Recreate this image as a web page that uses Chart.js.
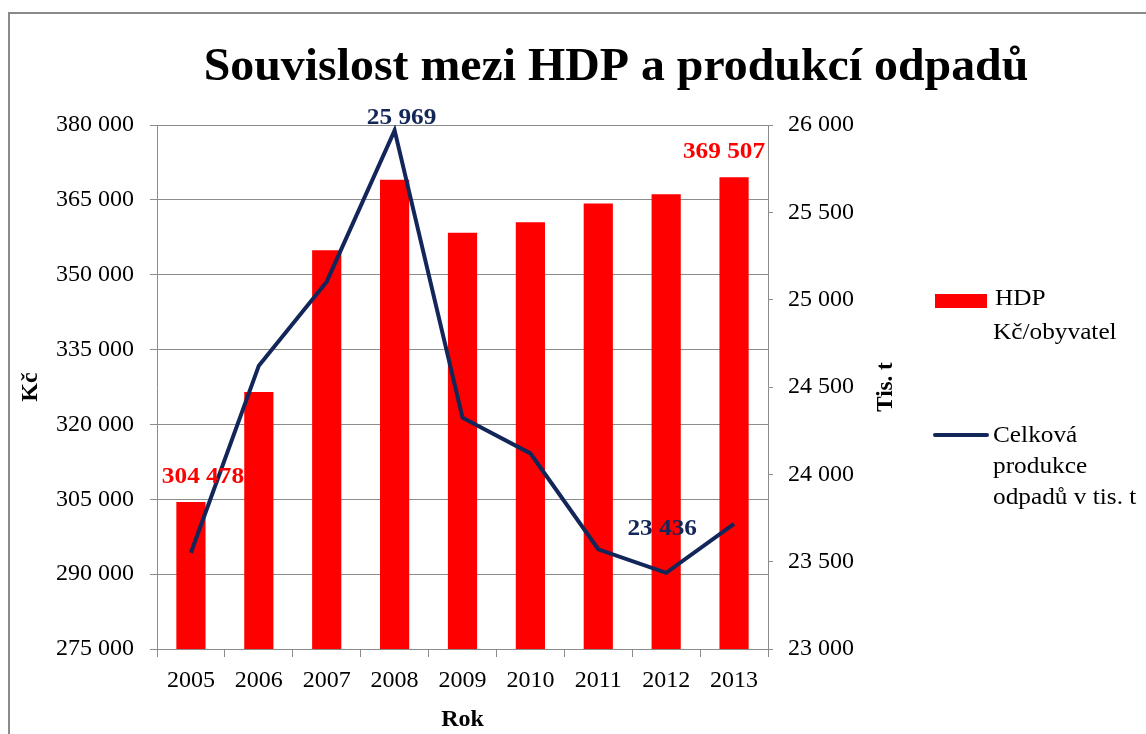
<!DOCTYPE html>
<html>
<head>
<meta charset="utf-8">
<script src="https://cdn.jsdelivr.net/npm/chart.js@4.4.0/dist/chart.umd.min.js"></script>
<style>
    body { margin: 0; background: #fff; }
    #wrap { position: relative; width: 1146px; height: 734px; }
    #ramecek { position: absolute; left: 8px; top: 12px; right: -2px; bottom: -2px; border-left: 2px solid #8a8a8a; border-top: 2px solid #8a8a8a; }
    canvas { position: absolute; left: 0; top: 0; }
</style>
</head>
<body>
<div id="wrap">
    <div id="ramecek"></div>
    <canvas id="chart" width="1146" height="734"></canvas>
</div>
<script>
var roky = ['2005', '2006', '2007', '2008', '2009', '2010', '2011', '2012', '2013'];
var hdp = [304478, 326500, 354900, 369050, 358400, 360500, 364250, 366100, 369507];
var odpady = [23551, 24622, 25103, 25969, 24324, 24120, 23571, 23436, 23716];
var hdpPopisky = [0, 8];
var odpadyPopisky = [3, 7];

var PISMO = "'Liberation Serif', 'Times New Roman', serif";
var SEDA = '#8c8c8c';
var MODRA = '#132659';

function formatCislo(n) {
    return String(n).replace(/\B(?=(\d{3})+(?!\d))/g, ' ');
}

// text trochu roztazeny do sirky jako v originale
function text(c, s, x, y, sx) {
    c.save();
    c.translate(x, y);
    c.scale(sx || 1.1, 1);
    c.fillText(s, 0, 0);
    c.restore();
}

var doplnky = {
    id: 'doplnky',
    afterDraw: function (chart) {
        var c = chart.ctx;
        c.save();
        // nadpis
        c.fillStyle = '#000';
        c.font = 'bold 46px ' + PISMO;
        c.textAlign = 'center';
        c.textBaseline = 'middle';
        text(c, 'Souvislost mezi HDP a produkcí odpadů', 616, 68, 1.04);

        // popisky hodnot
        c.font = 'bold 23px ' + PISMO;
        var bary = chart.getDatasetMeta(0).data;
        c.fillStyle = '#ff0000';
        hdpPopisky.forEach(function (i) {
            var el = bary[i];
            var x = Math.min(el.x + 12, 724);
            text(c, formatCislo(hdp[i]), x, el.y - 25);
        });
        var body = chart.getDatasetMeta(1).data;
        c.fillStyle = MODRA;
        odpadyPopisky.forEach(function (i) {
            var el = body[i];
            var dy = i === 3 ? -12 : -44;
            text(c, formatCislo(odpady[i]), el.x + (i === 3 ? 7 : -4), el.y + dy);
        });

        // nazev prave osy
        c.save();
        c.translate(886, 387);
        c.rotate(-Math.PI / 2);
        c.fillStyle = '#000';
        c.font = 'bold 23px ' + PISMO;
        c.fillText('Tis. t', 0, 0);
        c.restore();

        // legenda
        c.textAlign = 'left';
        c.fillStyle = '#ff0000';
        c.fillRect(935, 294, 52, 14);
        c.fillStyle = '#000';
        c.font = '23px ' + PISMO;
        text(c, 'HDP', 995, 299);
        text(c, 'Kč/obyvatel', 993, 333);
        c.strokeStyle = MODRA;
        c.lineWidth = 4;
        c.lineCap = 'round';
        c.beginPath();
        c.moveTo(935, 435);
        c.lineTo(987, 435);
        c.stroke();
        text(c, 'Celková', 993, 436);
        text(c, 'produkce', 993, 467);
        text(c, 'odpadů v tis. t', 993, 498);
        c.restore();
    }
};

var ctx = document.getElementById('chart').getContext('2d');
var chart = new Chart(ctx, {
    type: 'bar',
    data: {
        labels: roky,
        datasets: [{
            label: 'HDP Kč/obyvatel',
            data: hdp,
            backgroundColor: '#ff0000',
            yAxisID: 'y',
            categoryPercentage: 0.86,
            barPercentage: 0.5,
            order: 2
        }, {
            type: 'line',
            label: 'Celková produkce odpadů v tis. t',
            data: odpady,
            borderColor: MODRA,
            borderWidth: 4,
            pointRadius: 0,
            tension: 0,
            yAxisID: 'y2',
            order: 1
        }]
    },
    options: {
        responsive: false,
        animation: false,
        layout: {
            padding: { left: 0, top: 125, right: 278, bottom: 0 }
        },
        plugins: {
            legend: { display: false },
            tooltip: { enabled: false }
        },
        scales: {
            x: {
                grid: { drawOnChartArea: false, color: SEDA, tickLength: 8, offset: true },
                border: { color: SEDA },
                ticks: { color: '#000', font: { family: PISMO, size: 24 }, padding: 9, maxRotation: 0 },
                title: { display: true, text: 'Rok', color: '#000', font: { family: PISMO, size: 24, weight: 'bold' }, padding: { top: 0, bottom: 0 } },
                afterFit: function (s) { s.height = 85; }
            },
            y: {
                position: 'left',
                min: 275000,
                max: 380000,
                grid: { color: SEDA, tickLength: 7 },
                border: { color: SEDA },
                ticks: {
                    stepSize: 15000,
                    color: '#000',
                    font: { family: PISMO, size: 24 },
                    padding: 16,
                    callback: function (v) { return formatCislo(v); }
                },
                title: { display: true, text: 'Kč', color: '#000', font: { family: PISMO, size: 24, weight: 'bold' }, padding: { top: 16, bottom: 0 } },
                afterFit: function (s) { s.width = 157; }
            },
            y2: {
                position: 'right',
                min: 23000,
                max: 26000,
                grid: { drawOnChartArea: false, color: SEDA, tickLength: 5 },
                border: { color: SEDA },
                ticks: {
                    stepSize: 500,
                    color: '#000',
                    font: { family: PISMO, size: 24 },
                    padding: 15,
                    callback: function (v) { return formatCislo(v); }
                },
                afterFit: function (s) { s.width = 100; }
            }
        }
    },
    plugins: [doplnky]
});
</script>
</body>
</html>
